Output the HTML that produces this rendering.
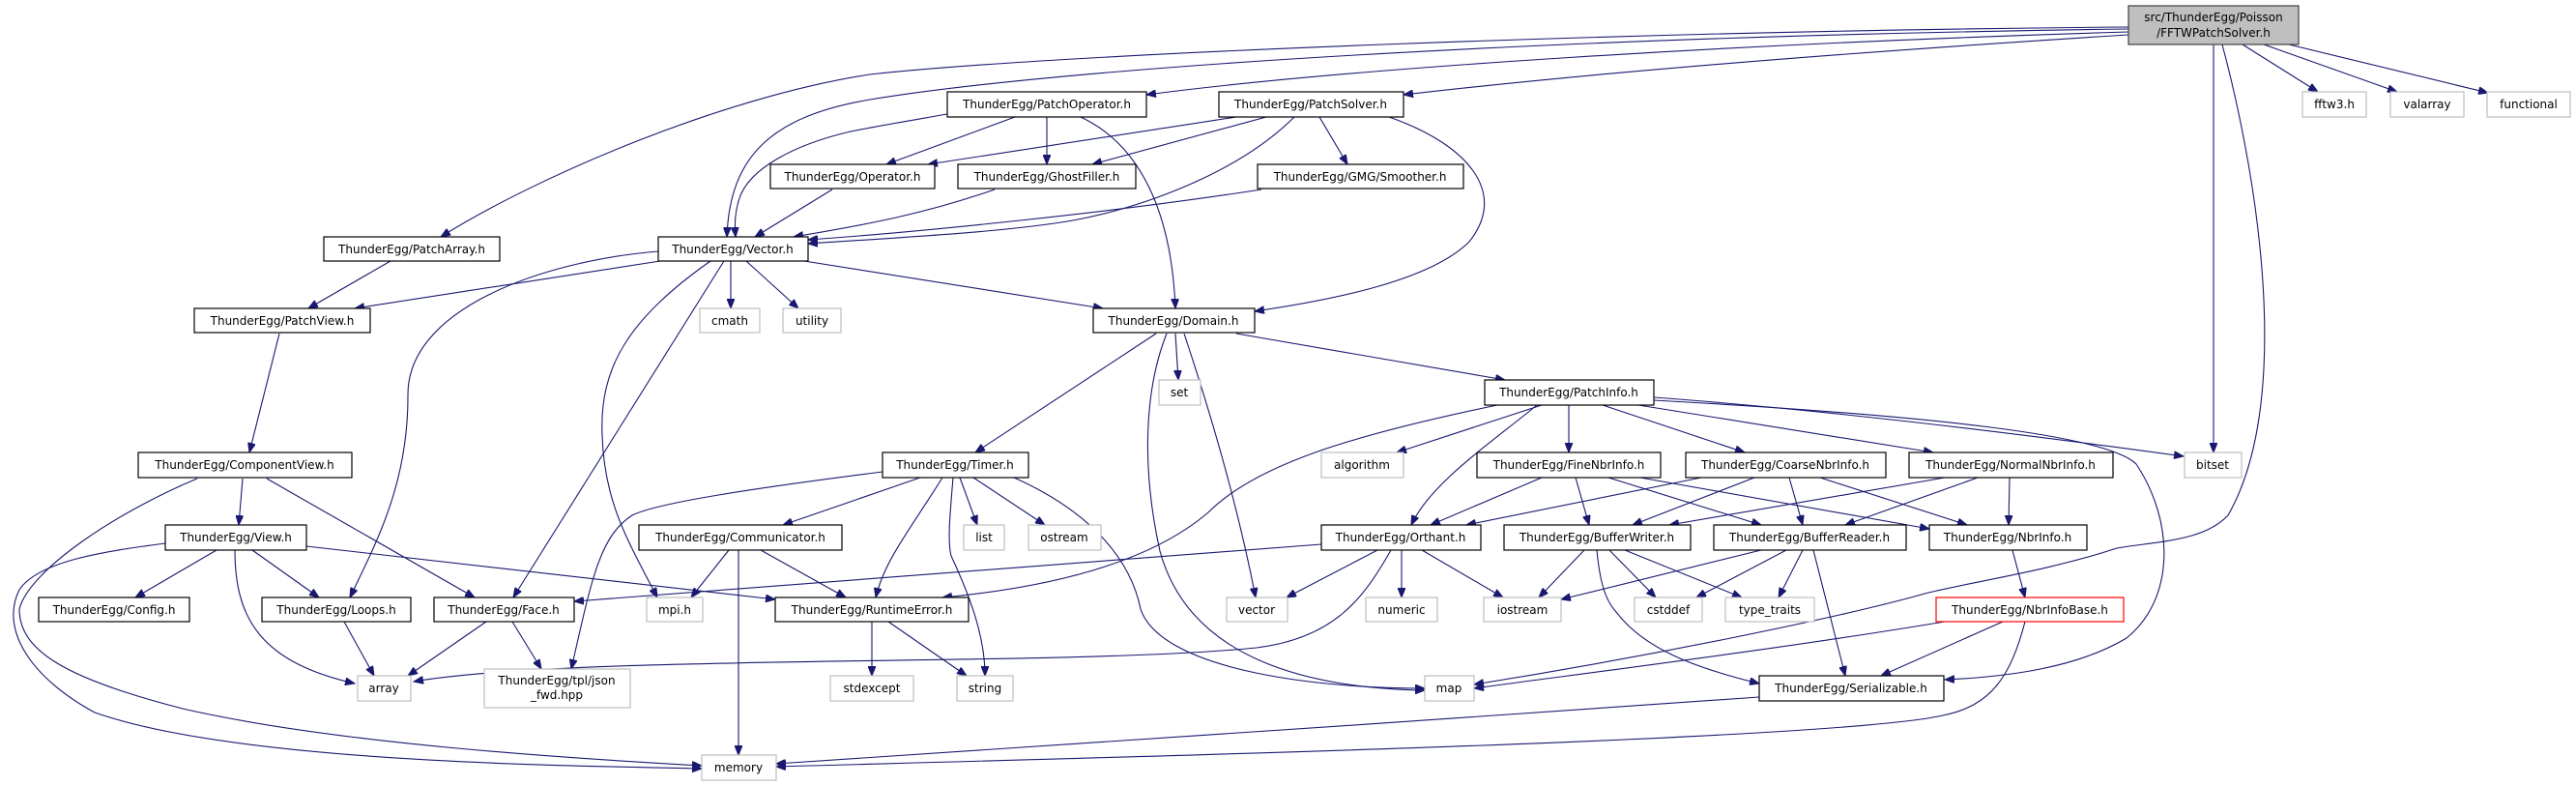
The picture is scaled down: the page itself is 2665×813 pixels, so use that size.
<!DOCTYPE html>
<html><head><meta charset="utf-8"><style>
html,body{margin:0;padding:0;background:#fff;}
svg{display:block;}
text{font-family:"DejaVu Sans","Liberation Sans",sans-serif;font-size:12px;fill:#000;text-anchor:middle;}
.n{fill:#fff;stroke:#000;stroke-width:1.2;}
.g{fill:#fff;stroke:#bfbfbf;stroke-width:1.2;}
.r{fill:#fff;stroke:#ff0000;stroke-width:1.2;}
.m{fill:#bfbfbf;stroke:#404040;stroke-width:1.2;}
path.e{fill:none;stroke:#191970;stroke-width:1.1;}
</style></head><body>
<svg width="2665" height="813" viewBox="0 0 2665 813" xmlns="http://www.w3.org/2000/svg">
<defs><marker id="a" markerWidth="11" markerHeight="8" refX="10" refY="4" orient="auto" markerUnits="userSpaceOnUse"><path d="M0,0 L10,4 L0,8 z" fill="#191970" stroke="#191970"/></marker></defs>
<g marker-end="url(#a)">
<!-- main -->
<path class="e" d="M2202,28 C1700,32 1100,55 900,77 C750,100 560,180 456,245"/>
<path class="e" d="M2202,30 C1600,38 1100,70 900,103 C800,120 755,160 752,245"/>
<path class="e" d="M2202,33 C1800,45 1400,70 1186,98"/>
<path class="e" d="M2202,36 C1900,55 1650,75 1452,98"/>
<path class="e" d="M2320,46 L2398,95"/>
<path class="e" d="M2342,46 L2480,95"/>
<path class="e" d="M2368,46 L2574,96"/>
<path class="e" d="M2290,46 L2290,468"/>
<path class="e" d="M2299,46 C2340,200 2370,420 2305,533 C2280,560 2230,560 2190,567 C2120,590 2050,600 1995,613 C1900,640 1700,680 1525,708"/>
<!-- PatchOperator -->
<path class="e" d="M1050,121 L917,170"/>
<path class="e" d="M1083,121 L1083,170"/>
<path class="e" d="M1118,121 C1180,150 1212,220 1216,319"/>
<path class="e" d="M980,118 C940,125 910,130 880,136 C820,150 775,175 765,205 C760,220 760,232 761,245"/>
<!-- PatchSolver -->
<path class="e" d="M1279,121 L960,170"/>
<path class="e" d="M1310,121 L1130,170"/>
<path class="e" d="M1365,121 L1394,170"/>
<path class="e" d="M1437,121 C1520,150 1560,200 1520,250 C1480,290 1380,310 1298,322"/>
<path class="e" d="M1339,121 C1280,180 1180,215 1110,228 C1040,240 940,245 836,252"/>
<!-- Operator, GhostFiller, Smoother -> Vector -->
<path class="e" d="M861,196 L781,245"/>
<path class="e" d="M1029,196 C960,220 900,232 821,245"/>
<path class="e" d="M1305,196 C1150,220 950,240 836,248"/>
<!-- PatchArray -->
<path class="e" d="M404,270 L319,319"/>
<!-- Vector -->
<path class="e" d="M683,270 L367,319"/>
<path class="e" d="M681,260 C560,270 420,320 422,410 C422,500 390,560 362,618"/>
<path class="e" d="M749,270 L531,618"/>
<path class="e" d="M735,270 C650,330 620,380 623,450 C625,520 650,560 680,618"/>
<path class="e" d="M756,270 L756,319"/>
<path class="e" d="M772,270 L826,319"/>
<path class="e" d="M832,270 L1141,319"/>
<!-- PatchView etc -->
<path class="e" d="M289,345 L258,468"/>
<path class="e" d="M251,495 L247,543"/>
<path class="e" d="M276,495 L491,618"/>
<path class="e" d="M204,495 C120,530 30,590 20,630 C20,670 60,700 189,733 C350,770 600,785 726,792"/>
<path class="e" d="M171,562 C110,570 40,580 20,610 C0,650 30,700 98,737 C250,790 600,792 726,795"/>
<path class="e" d="M224,569 L140,618"/>
<path class="e" d="M261,569 L330,618"/>
<path class="e" d="M243,569 C243,640 270,685 367,707"/>
<path class="e" d="M317,565 L802,620"/>
<path class="e" d="M356,643 L387,699"/>
<path class="e" d="M503,643 L422,699"/>
<path class="e" d="M530,643 L560,692"/>
<!-- Communicator -->
<path class="e" d="M754,569 L715,618"/>
<path class="e" d="M764,569 L764,781"/>
<path class="e" d="M787,569 L875,618"/>
<!-- Timer -->
<path class="e" d="M952,494 L810,543"/>
<path class="e" d="M913,488 C780,505 680,520 654,533 C620,555 612,600 591,692"/>
<path class="e" d="M975,494 C940,550 915,580 906,618"/>
<path class="e" d="M993,494 L1011,543"/>
<path class="e" d="M1007,494 L1081,543"/>
<path class="e" d="M986,494 C983,530 980,560 984,575 C1005,620 1019,660 1019,699"/>
<path class="e" d="M1049,494 C1130,530 1170,580 1180,630 C1200,690 1350,712 1474,712"/>
<!-- RuntimeError -->
<path class="e" d="M902,643 L902,699"/>
<path class="e" d="M919,643 L1000,699"/>
<!-- Domain -->
<path class="e" d="M1196,345 L1009,468"/>
<path class="e" d="M1216,345 L1219,393"/>
<path class="e" d="M1207,345 C1185,400 1180,480 1200,570 C1230,680 1350,712 1474,714"/>
<path class="e" d="M1225,345 C1250,420 1280,520 1299,618"/>
<path class="e" d="M1279,345 L1557,393"/>
<!-- PatchInfo -->
<path class="e" d="M1595,419 L1445,468"/>
<path class="e" d="M1623,419 L1623,468"/>
<path class="e" d="M1590,419 C1540,460 1480,500 1460,543"/>
<path class="e" d="M1549,419 C1400,450 1300,480 1250,530 C1180,590 1060,610 975,618"/>
<path class="e" d="M1658,419 L1805,468"/>
<path class="e" d="M1695,419 L2000,468"/>
<path class="e" d="M1711,411 C1900,425 2100,450 2259,472"/>
<path class="e" d="M1711,414 C2000,430 2180,450 2210,480 C2250,540 2250,620 2200,660 C2150,690 2080,700 2012,703"/>
<!-- FineNbrInfo -->
<path class="e" d="M1595,494 L1480,543"/>
<path class="e" d="M1630,494 L1644,543"/>
<path class="e" d="M1664,494 L1822,543"/>
<path class="e" d="M1697,494 L1996,547"/>
<!-- CoarseNbrInfo -->
<path class="e" d="M1760,494 L1517,543"/>
<path class="e" d="M1815,494 L1689,543"/>
<path class="e" d="M1851,494 L1865,543"/>
<path class="e" d="M1883,494 L2035,543"/>
<!-- NormalNbrInfo -->
<path class="e" d="M2012,494 L1727,543"/>
<path class="e" d="M2046,494 L1909,543"/>
<path class="e" d="M2079,494 L2078,543"/>
<!-- Orthant -->
<path class="e" d="M1367,563 L594,622"/>
<path class="e" d="M1425,569 L1331,618"/>
<path class="e" d="M1450,569 L1450,618"/>
<path class="e" d="M1471,569 L1555,618"/>
<path class="e" d="M1439,569 C1410,620 1380,660 1300,670 C1100,690 600,676 428,705"/>
<!-- BufferWriter -->
<path class="e" d="M1639,569 L1592,618"/>
<path class="e" d="M1665,569 L1713,618"/>
<path class="e" d="M1681,569 L1802,618"/>
<path class="e" d="M1652,569 C1655,600 1660,620 1672,633 C1700,670 1750,690 1820,707"/>
<!-- BufferReader -->
<path class="e" d="M1822,569 L1615,620"/>
<path class="e" d="M1848,569 L1755,618"/>
<path class="e" d="M1865,569 L1840,618"/>
<path class="e" d="M1876,569 L1909,699"/>
<!-- NbrInfo / NbrInfoBase -->
<path class="e" d="M2082,569 L2095,618"/>
<path class="e" d="M2072,643 L1946,699"/>
<path class="e" d="M2012,643 C1850,670 1650,695 1525,712"/>
<path class="e" d="M2095,643 C2080,700 2060,730 2010,740 C1900,765 1200,782 803,793"/>
<path class="e" d="M1820,721 C1500,745 1000,775 803,790"/>
</g>
<!-- nodes -->
<rect class="m" x="2202" y="6" width="176" height="40"/><text x="2290" y="22">src/ThunderEgg/Poisson</text><text x="2290" y="38">/FFTWPatchSolver.h</text>
<rect class="g" x="2382" y="95" width="66" height="26"/><text x="2415" y="112">fftw3.h</text>
<rect class="g" x="2473" y="95" width="76" height="26"/><text x="2511" y="112">valarray</text>
<rect class="g" x="2573" y="95" width="86" height="26"/><text x="2616" y="112">functional</text>
<rect class="n" x="980" y="95" width="206" height="26"/><text x="1083" y="112">ThunderEgg/PatchOperator.h</text>
<rect class="n" x="1261" y="95" width="191" height="26"/><text x="1356" y="112">ThunderEgg/PatchSolver.h</text>
<rect class="n" x="797" y="170" width="170" height="25"/><text x="882" y="187">ThunderEgg/Operator.h</text>
<rect class="n" x="991" y="170" width="184" height="25"/><text x="1083" y="187">ThunderEgg/GhostFiller.h</text>
<rect class="n" x="1301" y="170" width="213" height="25"/><text x="1407" y="187">ThunderEgg/GMG/Smoother.h</text>
<rect class="n" x="335" y="245" width="182" height="25"/><text x="426" y="262">ThunderEgg/PatchArray.h</text>
<rect class="n" x="681" y="245" width="155" height="25"/><text x="758" y="262">ThunderEgg/Vector.h</text>
<rect class="n" x="201" y="319" width="182" height="25"/><text x="292" y="336">ThunderEgg/PatchView.h</text>
<rect class="g" x="724" y="319" width="62" height="25"/><text x="755" y="336">cmath</text>
<rect class="g" x="810" y="319" width="60" height="25"/><text x="840" y="336">utility</text>
<rect class="n" x="1131" y="319" width="167" height="25"/><text x="1214" y="336">ThunderEgg/Domain.h</text>
<rect class="g" x="1199" y="393" width="43" height="26"/><text x="1220" y="410">set</text>
<rect class="n" x="1536" y="393" width="175" height="26"/><text x="1623" y="410">ThunderEgg/PatchInfo.h</text>
<rect class="n" x="143" y="468" width="221" height="26"/><text x="253" y="485">ThunderEgg/ComponentView.h</text>
<rect class="n" x="913" y="468" width="151" height="26"/><text x="988" y="485">ThunderEgg/Timer.h</text>
<rect class="g" x="1367" y="468" width="85" height="26"/><text x="1409" y="485">algorithm</text>
<rect class="n" x="1528" y="468" width="190" height="26"/><text x="1623" y="485">ThunderEgg/FineNbrInfo.h</text>
<rect class="n" x="1744" y="468" width="207" height="26"/><text x="1847" y="485">ThunderEgg/CoarseNbrInfo.h</text>
<rect class="n" x="1975" y="468" width="211" height="26"/><text x="2080" y="485">ThunderEgg/NormalNbrInfo.h</text>
<rect class="g" x="2260" y="468" width="59" height="26"/><text x="2289" y="485">bitset</text>
<rect class="n" x="171" y="543" width="146" height="26"/><text x="244" y="560">ThunderEgg/View.h</text>
<rect class="n" x="661" y="543" width="210" height="26"/><text x="766" y="560">ThunderEgg/Communicator.h</text>
<rect class="g" x="997" y="543" width="42" height="26"/><text x="1018" y="560">list</text>
<rect class="g" x="1064" y="543" width="75" height="26"/><text x="1101" y="560">ostream</text>
<rect class="n" x="1367" y="543" width="165" height="26"/><text x="1449" y="560">ThunderEgg/Orthant.h</text>
<rect class="n" x="1556" y="543" width="193" height="26"/><text x="1652" y="560">ThunderEgg/BufferWriter.h</text>
<rect class="n" x="1773" y="543" width="199" height="26"/><text x="1872" y="560">ThunderEgg/BufferReader.h</text>
<rect class="n" x="1996" y="543" width="163" height="26"/><text x="2077" y="560">ThunderEgg/NbrInfo.h</text>
<rect class="n" x="40" y="618" width="156" height="25"/><text x="118" y="635">ThunderEgg/Config.h</text>
<rect class="n" x="271" y="618" width="154" height="25"/><text x="348" y="635">ThunderEgg/Loops.h</text>
<rect class="n" x="449" y="618" width="145" height="25"/><text x="521" y="635">ThunderEgg/Face.h</text>
<rect class="g" x="669" y="618" width="58" height="25"/><text x="698" y="635">mpi.h</text>
<rect class="n" x="802" y="618" width="200" height="25"/><text x="902" y="635">ThunderEgg/RuntimeError.h</text>
<rect class="g" x="1269" y="618" width="63" height="25"/><text x="1300" y="635">vector</text>
<rect class="g" x="1413" y="618" width="74" height="25"/><text x="1450" y="635">numeric</text>
<rect class="g" x="1535" y="618" width="80" height="25"/><text x="1575" y="635">iostream</text>
<rect class="g" x="1691" y="618" width="70" height="25"/><text x="1726" y="635">cstddef</text>
<rect class="g" x="1785" y="618" width="92" height="25"/><text x="1831" y="635">type_traits</text>
<rect class="r" x="2003" y="618" width="194" height="25"/><text x="2100" y="635">ThunderEgg/NbrInfoBase.h</text>
<rect class="g" x="370" y="699" width="55" height="26"/><text x="397" y="716">array</text>
<rect class="g" x="501" y="692" width="151" height="40"/><text x="576" y="708">ThunderEgg/tpl/json</text><text x="576" y="723">_fwd.hpp</text>
<rect class="g" x="859" y="699" width="86" height="26"/><text x="902" y="716">stdexcept</text>
<rect class="g" x="990" y="699" width="58" height="26"/><text x="1019" y="716">string</text>
<rect class="g" x="1474" y="699" width="51" height="26"/><text x="1499" y="716">map</text>
<rect class="n" x="1820" y="699" width="191" height="26"/><text x="1915" y="716">ThunderEgg/Serializable.h</text>
<rect class="g" x="726" y="781" width="77" height="26"/><text x="764" y="798">memory</text>
</svg>
</body></html>
